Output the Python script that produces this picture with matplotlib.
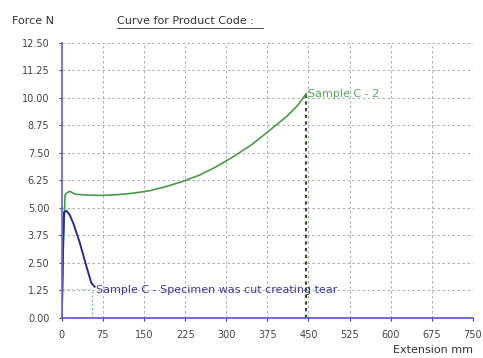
import matplotlib.pyplot as plt
import numpy as np

plt.rcParams['font.family'] = ['DejaVu Sans']

# Sample C - 2 (green)
green_x = [0, 3, 6, 10, 15, 25, 50, 70, 100, 130, 160, 190, 220, 252, 280, 313, 345, 373, 395, 410, 430, 446]
green_y = [0.0, 3.5, 5.6, 5.7, 5.75, 5.62, 5.58, 5.57, 5.6, 5.67, 5.78, 5.97, 6.2, 6.5, 6.85, 7.33, 7.85, 8.4, 8.85, 9.15, 9.65, 10.2]

# Sample C - Specimen was cut creating tear (blue)
blue_x = [0, 2, 4, 8.5, 14, 21, 33, 45, 54, 60]
blue_y = [0.0, 3.0, 4.8, 4.87, 4.7, 4.3, 3.4, 2.33, 1.58, 1.42]

x_ticks = [0, 75, 150, 225, 300, 375, 450, 525, 600, 675, 750]
y_ticks = [0.00, 1.25, 2.50, 3.75, 5.00, 6.25, 7.50, 8.75, 10.00, 11.25, 12.50]

green_label = 'Sample C - 2'
blue_label = 'Sample C - Specimen was cut creating tear'

fig = plt.figure(figsize=(4.83, 3.58), dpi=100)
ax = fig.add_axes([0.128, 0.112, 0.851, 0.768])

ax.set_xlim(0, 750)
ax.set_ylim(0, 12.5)
ax.set_xticks(x_ticks)
ax.set_yticks(y_ticks)
ax.set_yticklabels([f'{v:.2f}' for v in y_ticks])
ax.tick_params(labelsize=7, colors='#444444', length=2, pad=7)
ax.grid(True, color='#a0a0a0', linestyle=(0, (3, 3)), linewidth=0.6)

for s in ['top', 'right']:
    ax.spines[s].set_visible(False)
ax.spines['left'].set_color('#6666dd')
ax.spines['bottom'].set_color('#5555cc')
ax.spines['left'].set_linewidth(1.2)
ax.spines['bottom'].set_linewidth(1.2)

# drop lines from curve ends
ax.vlines(green_x[-1], 0, green_y[-1], colors='#2a5a2a', linestyles=(0, (1.5, 1.5)), linewidth=1.6)
ax.vlines(blue_x[-1] - 5, 0, blue_y[-1] - 0.1, colors='#88cc88', linestyles=(0, (1.5, 1.5)), linewidth=1.0)
ax.hlines(blue_y[-1] - 0.1, 0, blue_x[-1] - 5, colors='#aaddaa', linestyles=(0, (2, 2)), linewidth=0.8)

ax.plot(green_x, green_y, color='#4a9a4a', linewidth=1.2)
ax.plot(blue_x, blue_y, color='#2a2a88', linewidth=1.4)

ax.text(green_x[-1] + 3, green_y[-1], green_label, color='#55aa55', fontsize=8, va='center', ha='left')
ax.text(blue_x[-1] + 2, blue_y[-1] - 0.15, blue_label, color='#3a3aa0', fontsize=8, va='center', ha='left')

fig.text(0.024, 0.94, 'Force N', fontsize=8, color='#333333', va='center')
fig.text(0.242, 0.94, 'Curve for Product Code :', fontsize=8, color='#333333', va='center')
fig.add_artist(plt.Line2D([0.242, 0.545], [0.922, 0.922], color='#333333', linewidth=0.6))
fig.text(0.979, 0.022, 'Extension mm', fontsize=8, color='#333333', ha='right', va='center')

fig.savefig('out.png', dpi=100)
